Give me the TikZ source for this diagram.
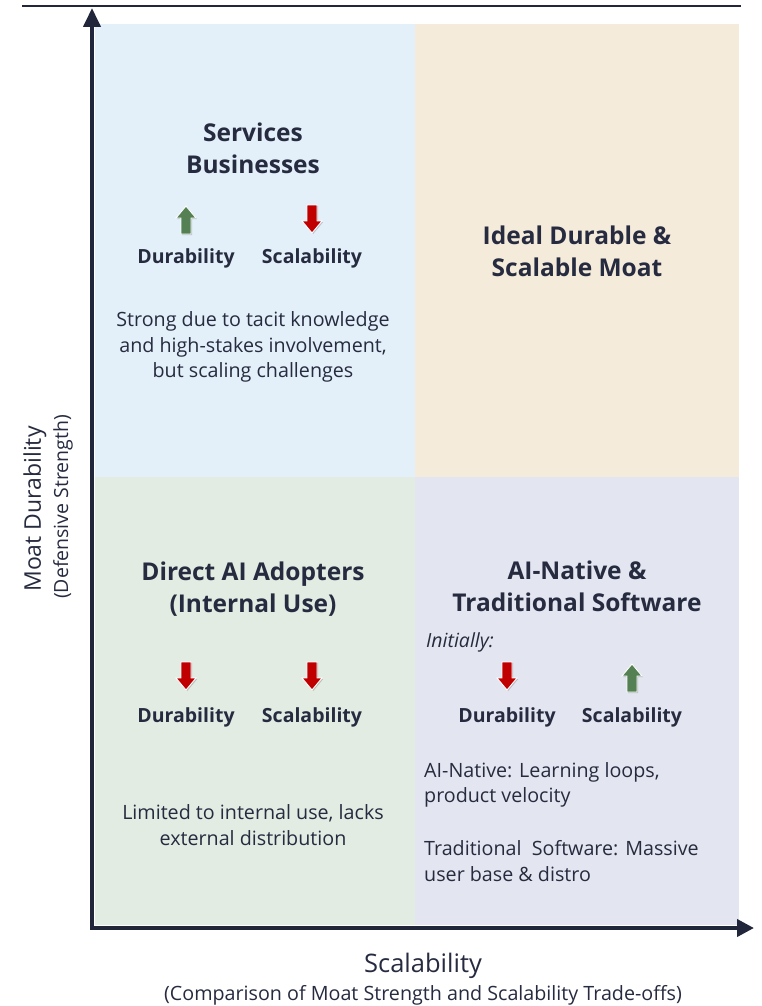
\documentclass[tikz,border=0pt]{standalone}
\usepackage{fontspec}
\setmainfont{Open Sans}
\usetikzlibrary{arrows.meta}
\definecolor{ink}{HTML}{262B3F}
\definecolor{axis}{HTML}{22263A}
\definecolor{qtl}{HTML}{E3F0FA}
\definecolor{qtr}{HTML}{F5EBDB}
\definecolor{qbl}{HTML}{E2ECE3}
\definecolor{qbr}{HTML}{E3E6F0}
\definecolor{upg}{HTML}{548053}
\definecolor{dnr}{HTML}{C00000}
\tikzset{
  title/.style={font=\fontsize{24.5}{32}\selectfont\bfseries, text=ink, align=center},
  lab/.style={font=\fontsize{19.5}{20}\selectfont\bfseries, text=ink},
  desc/.style={font=\fontsize{19.7}{25.5}\selectfont, text=ink, align=center},
  descl/.style={font=\fontsize{19.7}{25.5}\selectfont, text=ink, align=left},
  arrbody/.style={draw=white, line width=0.9pt, line join=miter},
  uparr/.pic={
    \fill[black, opacity=0.18] (1.2,-13) -- (11.2,-1) -- (6.2,-1) -- (6.2,15) -- (-3.8,15) -- (-3.8,-1) -- (-8.8,-1) -- cycle;
    \path[arrbody, fill=upg] (0,-14) -- (10,-2) -- (5,-2) -- (5,14) -- (-5,14) -- (-5,-2) -- (-10,-2) -- cycle;},
  dnarr/.pic={
    \fill[black, opacity=0.18] (1.2,15) -- (11.2,3) -- (6.2,3) -- (6.2,-13) -- (-3.8,-13) -- (-3.8,3) -- (-8.8,3) -- cycle;
    \path[arrbody, fill=dnr] (0,14) -- (10,2) -- (5,2) -- (5,-14) -- (-5,-14) -- (-5,2) -- (-10,2) -- cycle;},
}
\begin{document}
\begin{tikzpicture}[x=1pt,y=-1pt]
\useasboundingbox (0,0) rectangle (762,1006);
% quadrants
\fill[qtl] (95,24) rectangle (415,477);
\fill[qtr] (415,24) rectangle (739,477);
\fill[qbl] (95,477) rectangle (415,925);
\fill[qbr] (415,477) rectangle (739,925);
% top rule
\draw[axis, line width=2.5pt] (22,6) -- (741,6);
% axes
\coordinate (O) at (92,928);
\coordinate (ytop) at (92,8);
\coordinate (xend) at (754,928);
\draw[axis, line width=4pt, -{Triangle[length=19pt,width=17pt]}] (92,930) -- (ytop);
\draw[axis, line width=4pt, -{Triangle[length=17pt,width=17pt]}] (90,928) -- (xend);
% TL
\node[title] (tlt) at (253,148) {Services\\Businesses};
\pic (tlua) at (186,220) {uparr};
\pic (tlda) at (312,219) {dnarr};
\node[lab] (tlld) at (186,258) {Durability};
\node[lab] (tlls) at (312,258) {Scalability};
\node[desc] (tld) at (253,347) {Strong due to tacit knowledge\\and high-stakes involvement,\\but scaling challenges};
% TR
\node[title] (trt) at (577,251) {Ideal Durable \&\\Scalable Moat};
% BL
\node[title] (blt) at (253,589) {Direct AI Adopters\\(Internal Use)};
\pic (blda1) at (186,676) {dnarr};
\pic (blda2) at (312,676) {dnarr};
\node[lab] (blld) at (186,717) {Durability};
\node[lab] (blls) at (312,717) {Scalability};
\node[desc] (bld) at (253,825) {Limited to internal use, lacks\\external distribution};
% BR
\node[title] (brt) at (577,586) {AI-Native \&\\Traditional Software};
\node[font=\fontsize{19.5}{20}\selectfont\itshape, text=ink, anchor=west, inner sep=0pt] (bri) at (426,642) {Initially:};
\pic (brda) at (507,676) {dnarr};
\pic (brua) at (632,678) {uparr};
\node[lab] (brld) at (507,717) {Durability};
\node[lab] (brls) at (632,717) {Scalability};
\node[descl, anchor=west, inner sep=0pt] (brd1) at (424,785) {AI-Native: Learning loops,\\product velocity};
\node[descl, anchor=west, inner sep=0pt] (brd2) at (424,861) {Traditional\ \ Software: Massive\\user base \& distro};
% axis labels
\node[font=\fontsize{25.5}{26}\selectfont, text=ink] (xl) at (423,966) {Scalability};
\node[font=\fontsize{19.7}{20}\selectfont, text=ink] (xl2) at (423,995) {(Comparison of Moat Strength and Scalability Trade-offs)};
\node[font=\fontsize{23}{24}\selectfont, text=ink, rotate=90] (yl) at (35,509) {Moat Durability};
\node[font=\fontsize{19.5}{20}\selectfont, text=ink, rotate=90] (yl2) at (63,507) {(Defensive Strength)};
\end{tikzpicture}
\end{document}
